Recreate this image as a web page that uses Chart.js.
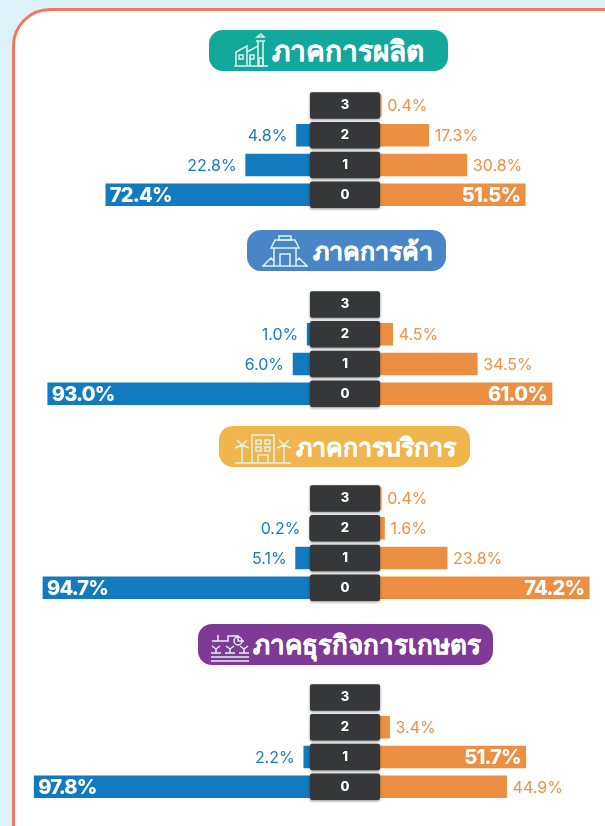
<!DOCTYPE html>
<html>
<head>
<meta charset="utf-8">
<script src="https://cdn.jsdelivr.net/npm/chart.js@4"></script>
<style>
html, body { margin: 0; padding: 0; width: 605px; height: 826px; overflow: hidden; background: #dcf1f8; }
.card { position: absolute; left: 12px; top: 8px; width: 640px; height: 900px; box-sizing: border-box; background: #fff; border: 3px solid #f4785f; border-radius: 38px; }
.pill { position: absolute; display: flex; align-items: center; justify-content: center; height: 41px; border-radius: 14px; color: #fff; font: 700 25px "Noto Sans", sans-serif; -webkit-text-stroke: 0.2px #fff; white-space: nowrap; }
.pill svg { flex: none; margin-right: 3px; fill: none; stroke: #dff3ea; stroke-width: 1.5; }
canvas { position: absolute; left: 0; }
</style>
</head>
<body>
<div class="card"></div>

<div class="pill" style="left:209px;top:30px;width:239px;background:#12a89b;font-size:28px">
  <svg width="36" height="36" viewBox="0 0 36 36"><path d="M1 33h34M3 33V19l11-6v20M14 19l11-6M25 33V8h5v25M23 8h9M24 4h7l-3-3zM17 33V24"/><rect x="6" y="22" width="4" height="4"/><rect x="17" y="22" width="4" height="4"/><rect x="26" y="25" width="4" height="8"/></svg>
  <span>ภาคการผลิต</span>
</div>
<div class="pill" style="left:247px;top:230px;width:199px;background:#4a86c6">
  <svg width="50" height="34" viewBox="0 0 50 34"><path d="M14 32V14h22v18M11 14l4-8h20l4 8zM20 32V20h10v12M3 32l8-8 3 3M47 32l-8-8-3 3M2 32h46"/><rect x="19" y="2" width="12" height="4"/></svg>
  <span>ภาคการค้า</span>
</div>
<div class="pill" style="left:219px;top:426px;width:251px;background:#f0b54c">
  <svg width="60" height="36" viewBox="0 0 60 36"><path d="M19 34V6h22v28M25 34V26h10v8M2 34h56M9 34V16M9 16l-7 3M9 16l7 3M9 16l-5-5M9 16l5-5M51 34V16M51 16l-7 3M51 16l7 3M51 16l-5-5M51 16l5-5"/><rect x="23" y="11" width="5" height="4"/><rect x="32" y="11" width="5" height="4"/><rect x="23" y="18" width="5" height="4"/><rect x="32" y="18" width="5" height="4"/></svg>
  <span>ภาคการบริการ</span>
</div>
<div class="pill" style="left:198px;top:624px;width:295px;background:#7f3a95;font-size:26px">
  <svg width="40" height="34" viewBox="0 0 40 34"><path d="M2 13h16V8h10v5h6M8 13V7M1 25h10M15 25h10M29 25h10M6 25v-4l-4-3M6 21l4-3M20 25v-4l-4-3M20 21l4-3M34 25v-4l-4-3M34 21l4-3M1 29h38M1 33h38"/><circle cx="28" cy="13" r="4"/></svg>
  <span>ภาคธุรกิจการเกษตร</span>
</div>

<canvas id="chart-manufacturing"></canvas>
<canvas id="chart-trade"></canvas>
<canvas id="chart-service"></canvas>
<canvas id="chart-agriculture"></canvas>

<script>
const categories = ['3', '2', '1', '0'];

const manufacturingLeft = [null, 4.8, 22.8, 72.4];
const manufacturingRight = [0.4, 17.3, 30.8, 51.5];
const tradeLeft = [null, 1.0, 6.0, 93.0];
const tradeRight = [null, 4.5, 34.5, 61.0];
const serviceLeft = [null, 0.2, 5.1, 94.7];
const serviceRight = [0.4, 1.6, 23.8, 74.2];
const agricultureLeft = [null, null, 2.2, 97.8];
const agricultureRight = [null, 3.4, 51.7, 44.9];

const BLUE = '#127bc0';
const ORANGE = '#ec8f43';
const FONT = 'Inter, "Noto Sans", sans-serif';

// the two halves share one canvas, each with its own zero either side of the label column
const WIDTH = 605;
const PCT_PX = 2.82;
const LEFT_ZERO = 310;
const RIGHT_ZERO = 380;

// dark label boxes and the percent labels
const rowLabels = {
    id: 'rowLabels',
    afterDatasetsDraw(chart) {
        const ctx = chart.ctx;
        const yScale = chart.scales.y;

        chart.data.datasets.forEach((dataset, d) => {
            const meta = chart.getDatasetMeta(d);
            const isLeft = d === 0;
            meta.data.forEach((bar, i) => {
                const value = dataset.data[i];
                if (value === null) return;
                ctx.save();
                ctx.textBaseline = 'middle';
                if (value >= 50) {
                    ctx.font = '800 20px ' + FONT;
                    ctx.letterSpacing = '-0.8px';
                    ctx.fillStyle = '#fff';
                    ctx.textAlign = isLeft ? 'left' : 'right';
                    ctx.fillText(value.toFixed(1) + '%', bar.x + (isLeft ? 4 : -5), bar.y + 1);
                } else {
                    ctx.font = '400 16px ' + FONT;
                    ctx.fillStyle = isLeft ? '#1a7bc0' : '#ee9145';
                    ctx.textAlign = isLeft ? 'right' : 'left';
                    ctx.fillText(value.toFixed(1) + '%', bar.x + (isLeft ? -9 : 6), bar.y + 1);
                }
                ctx.restore();
            });
        });

        categories.forEach((label, i) => {
            const y = yScale.getPixelForValue(i);
            ctx.save();
            ctx.shadowColor = 'rgba(0,0,0,0.45)';
            ctx.shadowBlur = 3;
            ctx.shadowOffsetY = 1;
            ctx.fillStyle = '#353738';
            ctx.beginPath();
            ctx.roundRect(LEFT_ZERO, y - 13.25, RIGHT_ZERO - LEFT_ZERO, 26.5, 2);
            ctx.fill();
            ctx.restore();
            ctx.fillStyle = '#fff';
            ctx.font = '800 13px ' + FONT;
            ctx.textAlign = 'center';
            ctx.textBaseline = 'middle';
            ctx.fillText(label, (LEFT_ZERO + RIGHT_ZERO) / 2, y);
        });
    }
};

function drawPanel(id, top, leftValues, rightValues) {
    const canvas = document.getElementById(id);
    canvas.style.top = top + 'px';
    canvas.style.width = WIDTH + 'px';
    canvas.style.height = '131px';
    canvas.width = WIDTH;
    canvas.height = 131;

    new Chart(canvas, {
        type: 'bar',
        data: {
            labels: categories,
            datasets: [
                { data: leftValues, backgroundColor: BLUE, xAxisID: 'xLeft', barThickness: 22, grouped: false },
                { data: rightValues, backgroundColor: ORANGE, xAxisID: 'xRight', barThickness: 22, grouped: false }
            ]
        },
        options: {
            indexAxis: 'y',
            responsive: false,
            animation: false,
            layout: { padding: { top: 5.6, bottom: 6.4 } },
            scales: {
                y: { display: false },
                xLeft: {
                    display: false,
                    reverse: true,
                    min: -(WIDTH - LEFT_ZERO) / PCT_PX,
                    max: LEFT_ZERO / PCT_PX
                },
                xRight: {
                    display: false,
                    min: -RIGHT_ZERO / PCT_PX,
                    max: (WIDTH - RIGHT_ZERO) / PCT_PX
                }
            },
            plugins: { legend: { display: false }, tooltip: { enabled: false } }
        },
        plugins: [rowLabels]
    });
}

drawPanel('chart-manufacturing', 85, manufacturingLeft, manufacturingRight);
drawPanel('chart-trade', 284, tradeLeft, tradeRight);
drawPanel('chart-service', 478, serviceLeft, serviceRight);
drawPanel('chart-agriculture', 677, agricultureLeft, agricultureRight);
</script>
</body>
</html>
